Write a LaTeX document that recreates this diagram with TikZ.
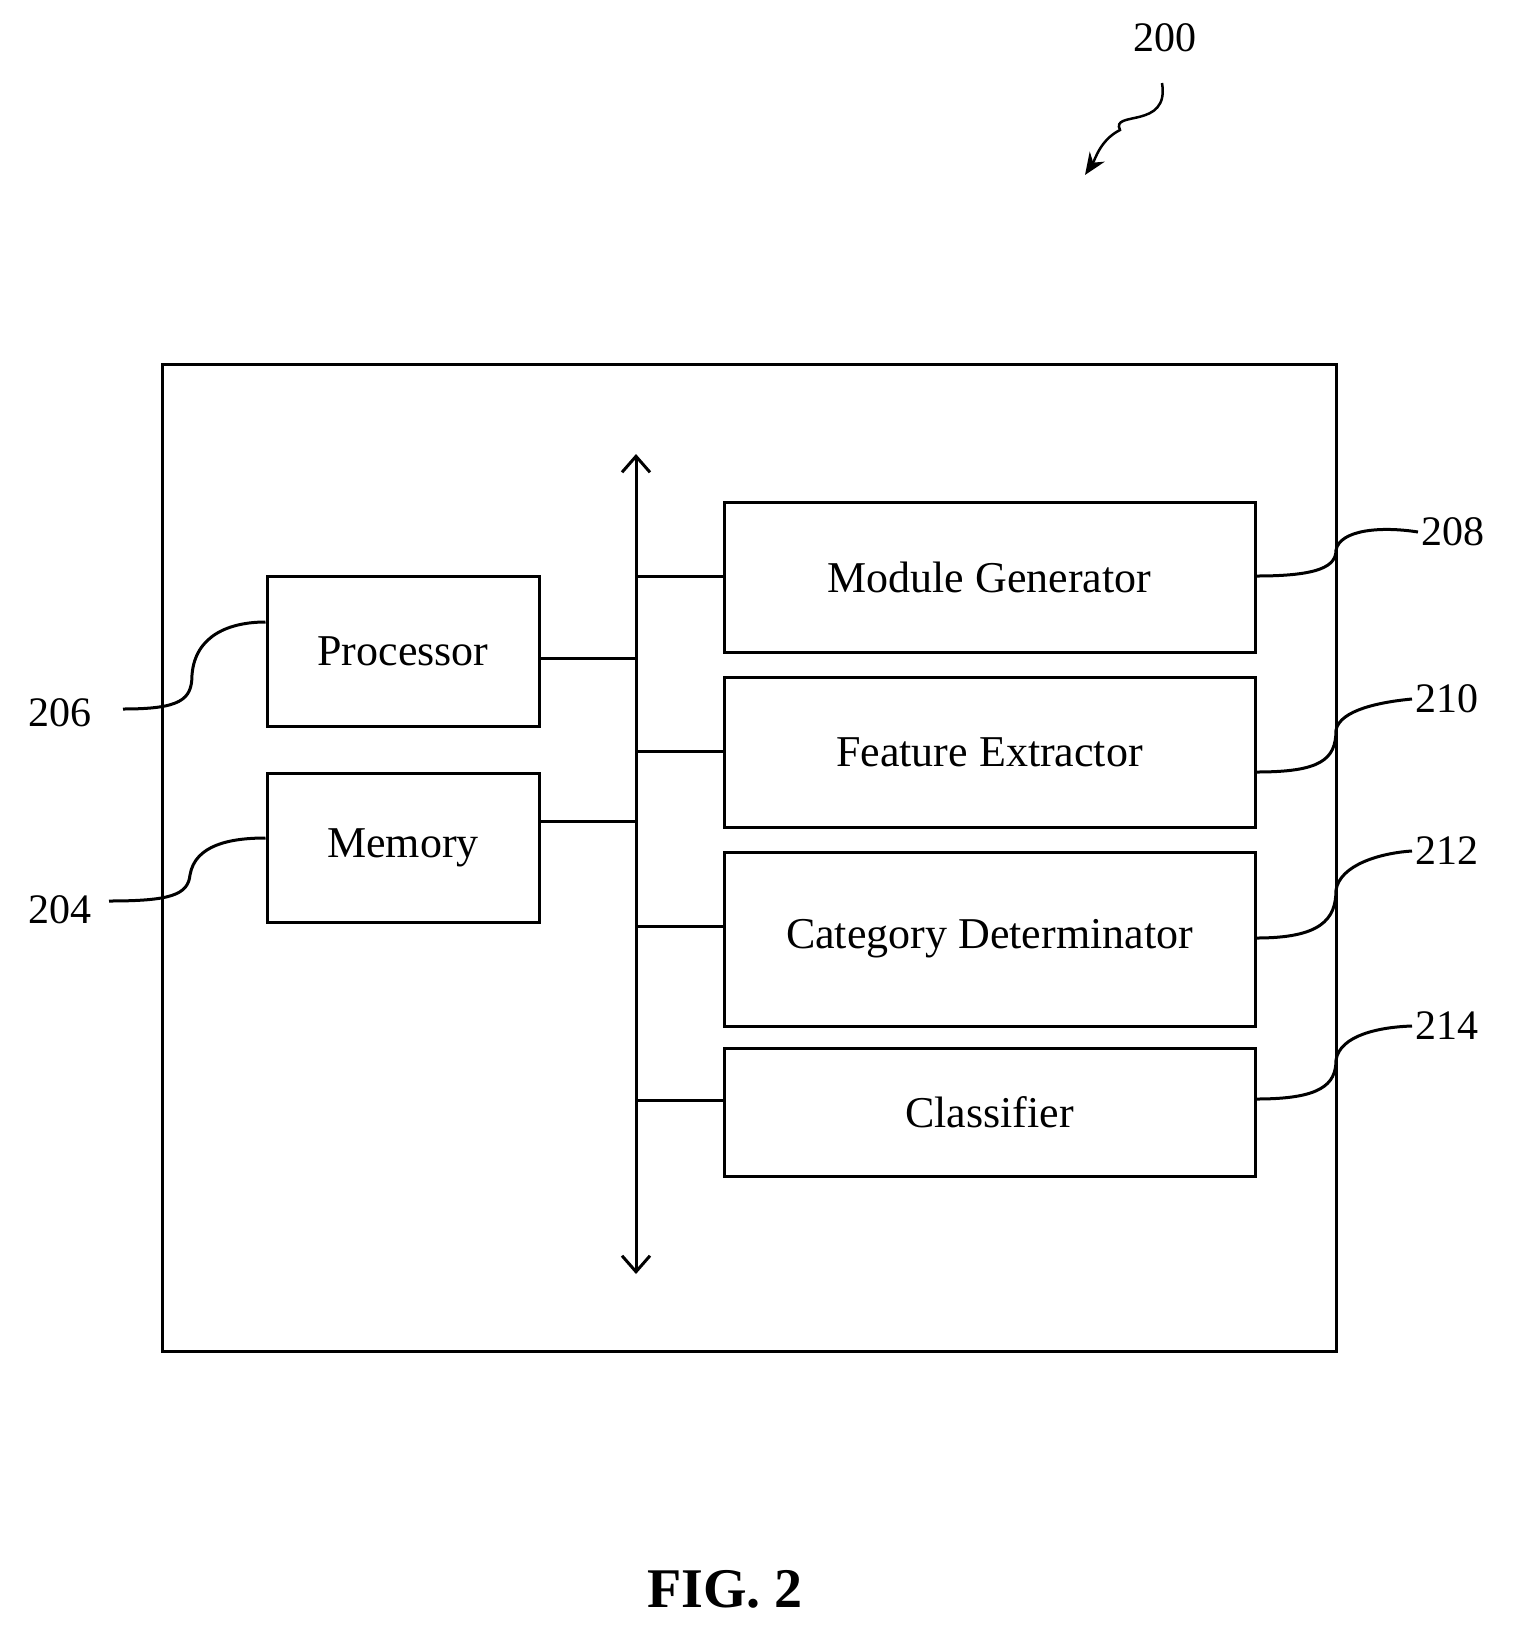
\documentclass[tikz,border=0pt]{standalone}
\usetikzlibrary{arrows.meta}
\usepackage{fontspec}
\setmainfont{Liberation Serif}
\begin{document}
\begin{tikzpicture}[x=1pt,y=-1pt,
  box/.style={draw,line width=3pt,inner sep=0pt},
  ln/.style={line width=3pt},
  lbl/.style={font=\fontsize{42}{48}\selectfont},
  txt/.style={font=\fontsize{44}{50}\selectfont}]
\useasboundingbox (0,0) rectangle (1515,1631);
\draw[ln] (162,364) rectangle (1336,1351);
\coordinate (bt) at (636,454); \coordinate (bb) at (636,1274);
\draw[ln,<->,>={Straight Barb[length=16pt,width=28pt,line width=3pt]}] (bt) -- (bb);
\node[box,minimum width=272pt,minimum height=150pt,txt] (p) at (403,651) {Processor};
\node[box,minimum width=272pt,minimum height=149pt,txt] (m) at (403,847.5) {Memory};
\node[box,minimum width=531pt,minimum height=150pt,txt] (mg) at (989.5,577) {Module Generator};
\node[box,minimum width=531pt,minimum height=150pt,txt] (fe) at (989.5,752) {Feature Extractor};
\node[box,minimum width=531pt,minimum height=174pt,txt] (cd) at (989.5,939) {Category Determinator};
\node[box,minimum width=531pt,minimum height=128pt,txt] (cl) at (989.5,1112) {Classifier};
\draw[ln] (p.east|-0,658) -- (636,658);
\draw[ln] (m.east|-0,821) -- (636,821);
\draw[ln] (636,576) -- (mg.west|-0,576);
\draw[ln] (636,751) -- (fe.west|-0,751);
\draw[ln] (636,926) -- (cd.west|-0,926);
\draw[ln] (636,1100) -- (cl.west|-0,1100);
% labels
\node[lbl] (l200) at (1165,38) {200};
\coordinate (a0) at (1162,83);
\coordinate (a1) at (1085,175);
\draw[line width=2.5pt,->,>={Stealth[length=22pt,width=18pt]}] (a0) .. controls (1170,130) and (1110,110) .. (1120,130) .. controls (1100,140) and (1095,160) .. (a1);
\node[lbl,anchor=west] (l208) at (1418,532) {208};
\node[lbl,anchor=west] (l210) at (1412,699) {210};
\node[lbl,anchor=west] (l212) at (1412,851) {212};
\node[lbl,anchor=west] (l214) at (1412,1026) {214};
\draw[ln] (mg.east|-0,576) .. controls (1320,576) and (1336,566) .. (1336,550) .. controls (1340,530) and (1380,526) .. (l208.west);
\draw[ln] (fe.east|-0,772) .. controls (1320,772) and (1336,760) .. (1336,730) .. controls (1340,710) and (1380,702) .. (l210.west);
\draw[ln] (cd.east|-0,938) .. controls (1320,938) and (1336,920) .. (1336,890) .. controls (1340,865) and (1380,853) .. (l212.west);
\draw[ln] (cl.east|-0,1099) .. controls (1320,1099) and (1336,1085) .. (1336,1060) .. controls (1340,1035) and (1380,1027) .. (l214.west);
\node[lbl,anchor=east] (l206) at (95,713) {206};
\node[lbl,anchor=east] (l204) at (95,910) {204};
\draw[ln] (123,709) .. controls (180,709) and (192,700) .. (192,675) .. controls (195,635) and (230,622) .. (p.west|-0,622);
\draw[ln] (109,901) .. controls (170,901) and (188,895) .. (190,875) .. controls (195,845) and (230,838) .. (m.west|-0,838);
\node[font=\fontsize{56}{60}\selectfont\bfseries] (fig) at (725,1589) {FIG. 2};
\end{tikzpicture}
\end{document}
